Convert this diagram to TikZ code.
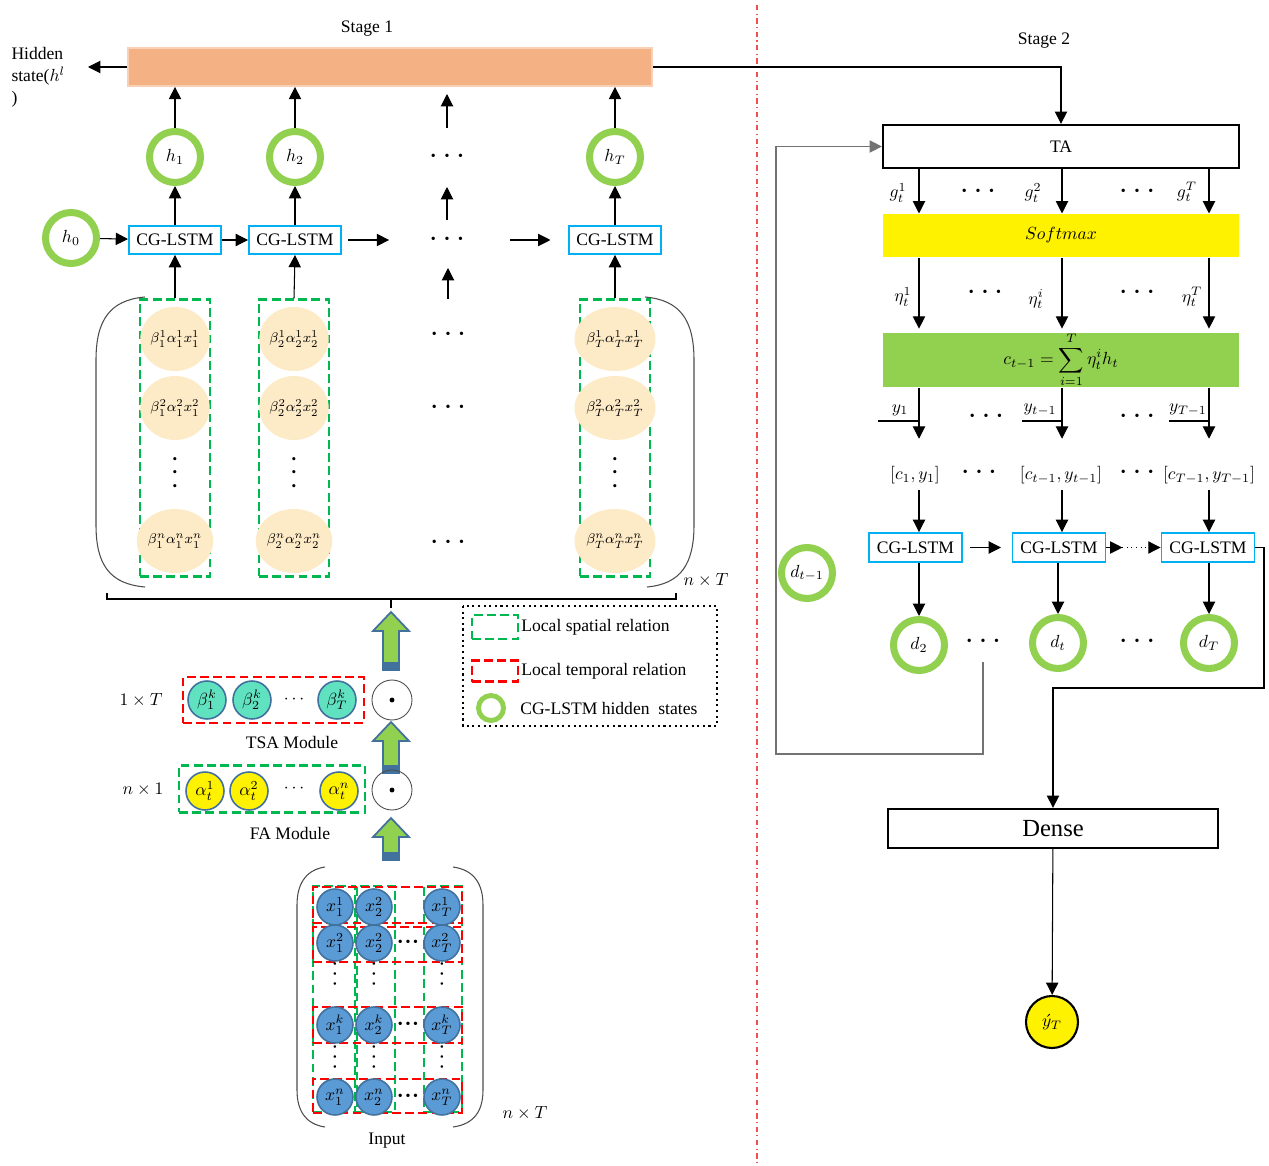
\documentclass[tikz,border=0pt]{standalone}
\usepackage{fontspec}
\setmainfont{Liberation Serif}
\usetikzlibrary{arrows.meta,shapes.geometric}

\definecolor{barorange}{RGB}{244,177,131}
\definecolor{ringgreen}{RGB}{146,208,80}
\definecolor{lstmblue}{RGB}{0,176,240}
\definecolor{spatialgreen}{RGB}{0,184,80}
\definecolor{cellbeige}{RGB}{253,234,198}
\definecolor{betateal}{RGB}{96,226,192}
\definecolor{inputblue}{RGB}{91,155,213}
\definecolor{edgeblue}{RGB}{65,113,156}
\definecolor{stagered}{RGB}{240,80,80}

\newcommand{\dotrow}[1][5pt]{{\fontsize{8}{8}\selectfont\textbullet\hspace{#1}\textbullet\hspace{#1}\textbullet}}
\newcommand{\dotcol}{\textbullet\\\textbullet\\\textbullet}

\tikzset{
  arr/.style={-{Triangle[length=7pt,width=7pt]}},
  ring/.style={circle, draw=ringgreen, line width=4pt, minimum size=1.02cm, inner sep=0pt},
  lstm/.style={draw=lstmblue, line width=1.1pt, minimum width=1.84cm, minimum height=0.56cm, inner sep=0pt},
  spatial/.style={draw=spatialgreen, line width=1.3pt, dash pattern=on 5pt off 2.5pt},
  temporal/.style={draw=red, line width=1.3pt, dash pattern=on 5pt off 2.5pt},
  cell/.style={ellipse, fill=cellbeige, minimum width=1.22cm, minimum height=1.28cm, inner sep=0pt, font=\fontsize{8}{9}\selectfont},
  ball/.style={circle, draw=edgeblue, line width=0.9pt, minimum size=0.76cm, inner sep=0pt},
  odot/.style={circle, draw=black!70, line width=0.5pt, minimum size=0.8cm, inner sep=0pt},
  vdot/.style={align=center, inner sep=0pt, font=\fontsize{7.5}{7.5}\selectfont},
  plainbox/.style={draw, line width=1.3pt, minimum width=7.12cm, minimum height=0.86cm, inner sep=0pt},
  fatarrow/.style={fill=ringgreen, draw=edgeblue, line width=1pt},
}

\begin{document}
\begin{tikzpicture}[x=0.02cm, y=-0.02cm, font=\fontsize{10}{12.5}\selectfont, line width=0.6pt]
  \useasboundingbox (0,0) rectangle (1269,1166);

  % stage 1: hidden states
  \node (st1) at (367,29) {Stage 1};
  \node[fill=barorange, draw=barorange!60!white, line width=1pt, minimum width=10.48cm, minimum height=0.76cm, inner sep=0pt] (bar) at (390,67) {};
  \node[align=left, anchor=north west, inner sep=0pt] (hid) at (11,47) {Hidden\\state($h^l$\\)};
  \coordinate (hout) at (88,67);
  \draw[arr] (bar.west) -- (hout);

  \node[ring] (h0) at (71,238) {$h_0$};
  \node[ring] (h1) at (175,157) {$h_1$};
  \node[ring] (h2) at (295,157) {$h_2$};
  \node[ring] (hT) at (615,157) {$h_T$};
  \node (hd) at (447,157) {\dotrow};

  \node[lstm] (l1) at (175,240) {CG-LSTM};
  \node[lstm] (l2) at (295,240) {CG-LSTM};
  \node (ld) at (447,240) {\dotrow};
  \node[lstm] (lT) at (615,240) {CG-LSTM};

  \draw[arr] (h0) -- (l1);
  \draw[arr] (l1) -- (l2);
  \draw[arr] ([xshift=3.5pt]l2.east) -- ++(41,0);
  \draw[arr] (510,240) -- ([xshift=-10pt]lT.west);

  % weighted input matrix
  \foreach \n/\x in {1/175, 2/294, T/615} {
    \node[spatial, minimum width=1.4cm, minimum height=5.54cm] (c\n) at (\x,438) {};
    \node[cell] (e\n-1) at (\x,339) {$\beta_\n^1\alpha_\n^1x_\n^1$};
    \node[cell] (e\n-2) at (\x,408) {$\beta_\n^2\alpha_\n^2x_\n^2$};
    \node[vdot] (e\n-d) at (\x,474) {\dotcol};
    \node[cell] (e\n-n) at (\x,541) {$\beta_\n^n\alpha_\n^nx_\n^n$};
    \draw[arr] (c\n.north) -- (l\n.south);
    \draw[arr] (l\n) -- (h\n);
    \draw[arr] (h\n) -- (h\n |- bar.south);
  }
  \node (md1) at (448,335) {\dotrow};
  \node (md2) at (448,408) {\dotrow};
  \node (md3) at (448,543) {\dotrow};
  \draw[arr] (hd) ++(0,-29) -- ++(0,-34);
  \draw[arr] (ld) ++(0,-20) -- ++(0,-33);
  \draw[arr] (md1) ++(0,-36) -- ++(0,-31);

  \draw[black!70] (145,297) .. controls (110,300) and (96,320) .. (96,360) -- (96,525) .. controls (96,565) and (110,584) .. (145,587);
  \draw[black!70] (645,297) .. controls (680,300) and (694,320) .. (694,360) -- (694,525) .. controls (694,565) and (680,584) .. (647,587);
  \node (nt1) at (706,580) {$n\times T$};
  \draw (107,593) -- (107,599) -- (676,599) -- (676,593);
  \draw (391,599) -- (391,608);

  % block arrows
  \foreach \yt/\yb in {612/670, 722/773, 818/860} {
    \filldraw[fatarrow] (383,\yb) -- (383,\yt+19) -- (373,\yt+19) -- (391,\yt) -- (409,\yt+19) -- (399,\yt+19) -- (399,\yb) -- cycle;
    \fill[edgeblue] (384,\yb-8) rectangle (398,\yb);
  }

  % TSA and FA modules
  \node[temporal, minimum width=3.62cm, minimum height=0.92cm] (tsa) at (273.5,700) {};
  \node[ball, fill=betateal] (b1) at (207,700) {$\beta_1^k$};
  \node[ball, fill=betateal] (b2) at (252,700) {$\beta_2^k$};
  \node (bd) at (294,700) {$\cdots$};
  \node[ball, fill=betateal] (bT) at (337,700) {$\beta_T^k$};
  \node[odot] (o1) at (392,700) {};
  \fill (o1) circle (1.4pt);
  \node (dim1) at (141,700) {$1\times T$};
  \node (tsal) at (292,742) {TSA Module};

  \node[spatial, minimum width=3.72cm, minimum height=0.94cm] (fa) at (272,789) {};
  \node[ball, fill=yellow] (a1) at (205,791) {$\alpha_t^1$};
  \node[ball, fill=yellow] (a2) at (249,791) {$\alpha_t^2$};
  \node (ad) at (294,789) {$\cdots$};
  \node[ball, fill=yellow] (an) at (339,791) {$\alpha_t^n$};
  \node[odot] (o2) at (392,790) {};
  \fill (o2) circle (1.4pt);
  \node (dim2) at (143,790) {$n\times 1$};
  \node (fal) at (290,833) {FA Module};

  % legend
  \draw[line width=1.2pt, dotted] (463,606) rectangle (717,726);
  \node[spatial, minimum width=0.92cm, minimum height=0.48cm] (lg1) at (495,627) {};
  \node[anchor=west, inner sep=1pt] at (lg1.east) {Local spatial relation};
  \node[temporal, minimum width=0.92cm, minimum height=0.42cm] (lg2) at (495,671) {};
  \node[anchor=west, inner sep=1pt] at (lg2.east) {Local temporal relation};
  \node[ring, minimum size=0.5cm, line width=2.8pt] (lg3) at (491,708) {};
  \node[anchor=west, inner sep=1pt] at (518,708) {CG-LSTM hidden~ states};

  % input matrix
  \foreach \n/\x/\w in {1/334/0.84, 2/376/0.76, T/443/0.76}
    \node[spatial, minimum width=\w cm, minimum height=4.52cm] (ic\n) at (\x,999) {};
  \foreach \r/\y/\h in {1/905/0.72, 2/944.5/0.7, k/1025/0.72, n/1096/0.68}
    \node[temporal, minimum width=2.98cm, minimum height=\h cm] (ir\r) at (387.5,\y) {};
  \node[ball, fill=inputblue, minimum size=0.72cm] (x11) at (335,907) {$x_1^1$};
  \node[ball, fill=inputblue, minimum size=0.72cm] (x21) at (374,907) {$x_2^2$};
  \node[ball, fill=inputblue, minimum size=0.72cm] (xT1) at (442,907) {$x_T^1$};
  \foreach \r/\y in {2/943, k/1025, n/1097} {
    \foreach \n/\x in {1/335, 2/374, T/442}
      \node[ball, fill=inputblue, minimum size=0.72cm] (x\n\r) at (\x,\y) {$x_\n^\r$};
    \node (xd\r) at (408,\y) {\dotrow[1.5pt]};
  }
  \foreach \x in {335,374,442} {
    \node[vdot, font=\fontsize{6}{5.5}\selectfont] at (\x,975) {\dotcol};
    \node[vdot, font=\fontsize{6}{5.5}\selectfont] at (\x,1058) {\dotcol};
  }
  \draw[black!70] (325,867) .. controls (305,870) and (297,885) .. (297,905) -- (297,1090) .. controls (297,1110) and (305,1124) .. (325,1127);
  \draw[black!70] (453,867) .. controls (475,870) and (483,885) .. (483,905) -- (483,1090) .. controls (483,1110) and (475,1124) .. (453,1127);
  \node (nt2) at (525,1113) {$n\times T$};
  \node (inl) at (387,1141) {Input};

  % stage 2: decoder
  \draw[stagered, dash dot, line width=0.6pt] (757,5) -- (757,1166);
  \node (st2) at (1044,41) {Stage 2};
  \node[plainbox] (ta) at (1061,146.5) {TA};
  \draw[arr] (bar.east) -| (ta.north);

  \coordinate (k1) at (919,0);
  \coordinate (k2) at (1062,0);
  \coordinate (k3) at (1209,0);
  \node[fill=yellow, minimum width=7.12cm, minimum height=0.86cm, inner sep=0pt] (soft) at (1061,235.5) {$Softmax$};
  \node[fill=ringgreen, minimum width=7.12cm, minimum height=1.08cm, inner sep=0pt] (sum) at (1061,360) {$c_{t-1}=\displaystyle\sum_{i=1}^{T}\eta_t^ih_t$};
  \foreach \k in {k1,k2,k3} {
    \draw[arr] (ta.south -| \k) -- (soft.north -| \k);
    \draw[arr] (soft.south -| \k) -- ([yshift=2pt]sum.north -| \k);
  }
  \node at (898,193) {$g_t^1$};
  \node at (978,192) {\dotrow};
  \node at (1033,193) {$g_t^2$};
  \node at (1137,192) {\dotrow};
  \node at (1187,192) {$g_t^T$};
  \node at (903,297) {$\eta_t^1$};
  \node at (985,293) {\dotrow};
  \node at (1036,299) {$\eta_t^i$};
  \node at (1137,293) {\dotrow};
  \node at (1192,297) {$\eta_t^T$};

  \node (y1) at (900,410) {$y_1$};
  \node (yt) at (1040,410) {$y_{t-1}$};
  \node (yT) at (1188,410) {$y_{T-1}$};
  \draw (878,421) -- (919,421);
  \draw (1022,421) -- (1062,421);
  \draw (1169,421) -- (1209,421);
  \node at (986,417) {\dotrow};
  \node at (1137,417) {\dotrow};

  \node (cy1) at (915,475) {$[c_1,y_1]$};
  \node at (979,473) {\dotrow};
  \node (cyt) at (1061,475) {$[c_{t-1},y_{t-1}]$};
  \node at (1137,473) {\dotrow};
  \node (cyT) at (1209,475) {$[c_{T-1},y_{T-1}]$};
  \draw[arr, shorten >=12pt] (sum.south -| k1) -- (cy1.north -| k1);
  \draw[arr, shorten >=12pt] (sum.south -| k2) -- (cyt.north -| k2);
  \draw[arr, shorten >=12pt] (sum.south -| k3) -- (cyT.north -| k3);

  \node[lstm, minimum width=1.86cm, minimum height=0.58cm] (r1) at (915.5,547.5) {CG-LSTM};
  \node[lstm, minimum width=1.86cm, minimum height=0.58cm] (r2) at (1059,547.5) {CG-LSTM};
  \node[lstm, minimum width=1.86cm, minimum height=0.58cm] (r3) at (1208,547.5) {CG-LSTM};
  \draw[arr] (cy1.south -| k1) -- (r1.north -| k1);
  \draw[arr] (cyt.south -| k2) -- (r2.north -| k2);
  \draw[arr] (cyT.south -| k3) -- (r3.north -| k3);
  \draw[arr] ([xshift=4pt]r1.east) -- ([xshift=-6pt]r2.west);
  \draw[arr] (r2.east) -- ++(16,0);
  \draw[arr, dotted] ([xshift=9pt]r2.east) -- (r3.west);

  \node[ring] (dp) at (807,573) {$d_{t-1}$};
  \node[ring] (d2) at (919,645) {$d_2$};
  \node (dd1) at (983,642) {\dotrow};
  \node[ring] (dt) at (1058,643) {$d_t$};
  \node (dd2) at (1137,642) {\dotrow};
  \node[ring] (dT) at (1209,643) {$d_T$};
  \draw[arr] (r1.south -| d2) -- (d2);
  \draw[arr] (r2.south -| dt) -- (dt);
  \draw[arr] (r3.south -| dT) -- (dT);

  % feedback to TA
  \coordinate (fb) at (776,754);
  \draw[arr, black!55] ([yshift=-6pt]dd1.south) |- (fb) |- (ta.west);

  % output
  \coordinate (cr) at (1264,688);
  \node[draw, line width=1.3pt, minimum width=6.6cm, minimum height=0.78cm, inner sep=0pt, font=\fontsize{14}{16}\selectfont] (dense) at (1053,828.5) {Dense};
  \draw[arr] (r3.east) -| (cr) -| (dense.north);
  \node[circle, draw, fill=yellow, line width=1.2pt, minimum size=1.04cm, inner sep=0pt] (yhat) at (1052,1022) {$\acute{y}_T$};
  \draw[arr] (dense) -- (yhat);
\end{tikzpicture}
\end{document}
